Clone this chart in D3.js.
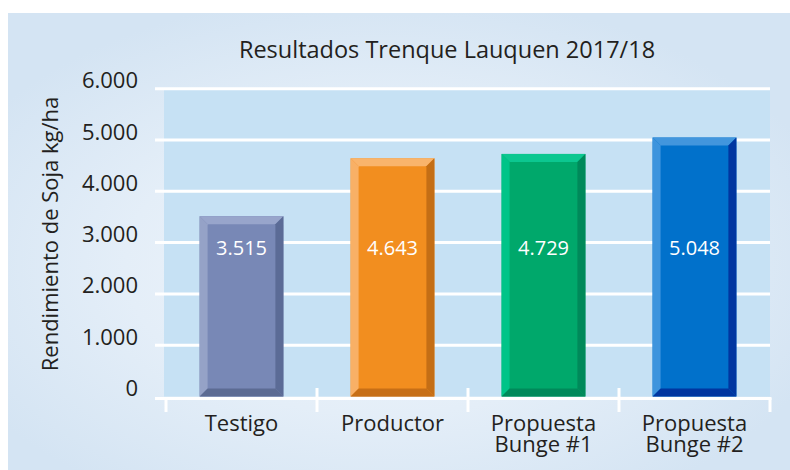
<!DOCTYPE html>
<html>
<head>
<meta charset="utf-8">
<script src="https://cdn.jsdelivr.net/npm/d3@7"></script>
<style>
  body { margin: 0; background: #fff; }
  text { font-family: "Open Sans", "Noto Sans", sans-serif; }
</style>
</head>
<body>
<div id="chart"></div>
<script>
// data
const categories = ["Testigo", "Productor", "Propuesta\nBunge #1", "Propuesta\nBunge #2"];
const values = [3515, 4643, 4729, 5048];
const yTicks = [0, 1000, 2000, 3000, 4000, 5000, 6000];
const title = "Resultados Trenque Lauquen 2017/18";
const yTitle = "Rendimiento de Soja kg/ha";

// bar colours: face, top, left, right, bottom
const barColors = [
    { face: "#7888b6", top: "#98a5cb", left: "#95a2c7", right: "#5b6b96", bottom: "#5c6b93" },
    { face: "#f28e1f", top: "#f9b46c", left: "#f8b066", right: "#c46e15", bottom: "#c76f16" },
    { face: "#00a86b", top: "#0cc790", left: "#00c488", right: "#00895a", bottom: "#00895a" },
    { face: "#0171cb", top: "#4296dd", left: "#3e94dd", right: "#0136a0", bottom: "#0136a0" }
];

const width = 790;
const height = 470;

const svg = d3.select("#chart")
    .append("svg")
    .attr("width", width)
    .attr("height", height);

// background panel with soft glow
const defs = svg.append("defs");
const grad = defs.append("radialGradient")
    .attr("id", "bg")
    .attr("cx", "48%").attr("cy", "55%").attr("r", "60%");
grad.append("stop").attr("offset", "0%").attr("stop-color", "#f2f6fb");
grad.append("stop").attr("offset", "55%").attr("stop-color", "#e4eef8");
grad.append("stop").attr("offset", "100%").attr("stop-color", "#d4e4f3");

svg.append("rect")
    .attr("x", 8).attr("y", 13)
    .attr("width", width - 8).attr("height", height - 13)
    .attr("fill", "url(#bg)");

// scales
const x = d3.scaleBand()
    .domain(categories)
    .range([166, 770])
    .padding(0);

const y = d3.scaleLinear()
    .domain([0, 6000])
    .range([396.5, 88.7]);

const fmt = d3.formatLocale({ decimal: ",", thousands: ".", grouping: [3], currency: ["", ""] }).format(",d");

// plot area
svg.append("rect")
    .attr("x", 164)
    .attr("y", y(6000))
    .attr("width", 770 - 164)
    .attr("height", y(0) - y(6000))
    .attr("fill", "#c6e1f4");

// gridlines
svg.selectAll(".grid")
    .data(yTicks.filter(d => d > 0))
    .join("line")
    .attr("class", "grid")
    .attr("x1", 155).attr("x2", 770)
    .attr("y1", d => y(d)).attr("y2", d => y(d))
    .attr("stroke", "#fff")
    .attr("stroke-width", 3);

// y tick labels
svg.selectAll(".ylab")
    .data(yTicks)
    .join("text")
    .attr("class", "ylab")
    .attr("x", 138)
    .attr("y", d => y(d) - 0.5)
    .attr("text-anchor", "end")
    .attr("font-size", 22)
    .attr("fill", "#231f20")
    .text(d => fmt(d));

// bars with bevelled edges
const bw = x.bandwidth() * 0.555;
const b = 8;
const bars = svg.selectAll(".bar")
    .data(values)
    .join("g")
    .attr("class", "bar");

bars.each(function(v, i) {
    const g = d3.select(this);
    const c = barColors[i];
    const x0 = x(categories[i]) + (x.bandwidth() - bw) / 2;
    const x1 = x0 + bw;
    const y0 = y(v);
    const y1 = y(0);
    const poly = pts => pts.map(p => p.join(",")).join(" ");
    g.append("rect")
        .attr("x", x0).attr("y", y0)
        .attr("width", bw).attr("height", y1 - y0)
        .attr("fill", c.face);
    g.append("polygon")
        .attr("points", poly([[x0, y0], [x1, y0], [x1 - b, y0 + b], [x0 + b, y0 + b]]))
        .attr("fill", c.top);
    g.append("polygon")
        .attr("points", poly([[x0, y0], [x0 + b, y0 + b], [x0 + b, y1 - b], [x0, y1]]))
        .attr("fill", c.left);
    g.append("polygon")
        .attr("points", poly([[x1, y0], [x1, y1], [x1 - b, y1 - b], [x1 - b, y0 + b]]))
        .attr("fill", c.right);
    g.append("polygon")
        .attr("points", poly([[x0, y1], [x1, y1], [x1 - b, y1 - b], [x0 + b, y1 - b]]))
        .attr("fill", c.bottom);
    // value label
    g.append("text")
        .attr("x", (x0 + x1) / 2)
        .attr("y", 254.5)
        .attr("text-anchor", "middle")
        .attr("font-size", 20)
        .attr("fill", "#fff")
        .text(fmt(v));
});

// x axis line and ticks
svg.append("line")
    .attr("x1", 155).attr("x2", 771.5)
    .attr("y1", 398.5).attr("y2", 398.5)
    .attr("stroke", "#fff")
    .attr("stroke-width", 3);

const edges = categories.map(d => x(d)).concat([x.range()[1]]);
svg.selectAll(".tick")
    .data(edges)
    .join("line")
    .attr("class", "tick")
    .attr("x1", d => d).attr("x2", d => d)
    .attr("y1", (d, i) => (i === 0 || i === edges.length - 1) ? 398 : 388)
    .attr("y2", 412)
    .attr("stroke", "#fff")
    .attr("stroke-width", 3);

// x labels
svg.selectAll(".xlab")
    .data(categories)
    .join("text")
    .attr("class", "xlab")
    .attr("text-anchor", "middle")
    .attr("font-size", 22)
    .attr("fill", "#231f20")
    .each(function(d) {
        const t = d3.select(this);
        d.split("\n").forEach((line, k) => {
            t.append("tspan")
                .attr("x", x(d) + x.bandwidth() / 2)
                .attr("y", 431 + k * 21)
                .text(line);
        });
    });

// title
svg.append("text")
    .attr("x", 447)
    .attr("y", 58)
    .attr("text-anchor", "middle")
    .attr("font-size", 23.5)
    .attr("fill", "#231f20")
    .text(title);

// y axis title
svg.append("text")
    .attr("transform", "translate(58,234) rotate(-90)")
    .attr("text-anchor", "middle")
    .attr("font-size", 22)
    .attr("fill", "#231f20")
    .text(yTitle);
</script>
</body>
</html>
